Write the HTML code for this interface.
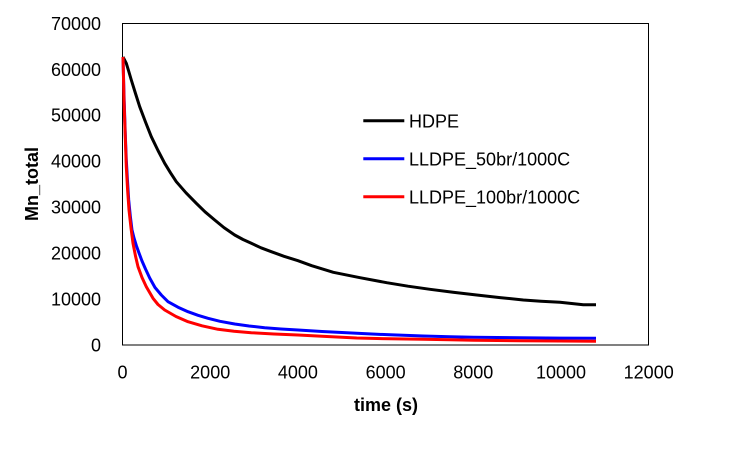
<!DOCTYPE html>
<html><head><meta charset="utf-8">
<style>
html,body{margin:0;padding:0;background:#fff;}
svg{display:block;}
text{font-family:"Liberation Sans",Arial,sans-serif;fill:#000;}
</style></head>
<body>
<svg width="749" height="450" viewBox="0 0 749 450" xmlns="http://www.w3.org/2000/svg">
<rect x="0" y="0" width="749" height="450" fill="#fff"/>
<rect x="122.5" y="23.5" width="526" height="321.5" fill="none" stroke="#000" stroke-width="1"/>
<g font-size="18" text-anchor="end">
<text x="101" y="29.9">70000</text>
<text x="101" y="75.8">60000</text>
<text x="101" y="121.7">50000</text>
<text x="101" y="167.7">40000</text>
<text x="101" y="213.6">30000</text>
<text x="101" y="259.5">20000</text>
<text x="101" y="305.5">10000</text>
<text x="101" y="351.4">0</text>
</g>
<g font-size="18" text-anchor="middle">
<text x="122.5" y="378.5">0</text>
<text x="210.2" y="378.5">2000</text>
<text x="297.9" y="378.5">4000</text>
<text x="385.6" y="378.5">6000</text>
<text x="473.3" y="378.5">8000</text>
<text x="561" y="378.5">10000</text>
<text x="648.7" y="378.5">12000</text>
</g>
<text x="386" y="411" font-size="18" font-weight="bold" text-anchor="middle">time (s)</text>
<text transform="translate(38,184) rotate(-90)" font-size="18" font-weight="bold" text-anchor="middle">Mn_total</text>
<g fill="none" stroke-width="3" stroke-linejoin="round" stroke-linecap="butt">
<polyline stroke="#000" points="123,57 126.3,63.3 128.8,71.5 131.3,80 135.5,93.5 139.7,106.7 145.5,122 151.3,136.7 158,150.5 164.7,163.3 170.5,172.8 176.3,181.7 186,192.8 196.3,203.3 205,211.8 214.7,220 224,227.6 234.7,235 243,239.5 251.3,243.3 261,247.8 271.3,251.7 284,256.3 298,260.7 311.7,265.7 333.3,272.3 360,277.7 386.7,282.7 408,286.2 430,289.3 453,292.2 476.7,295 500,297.6 523.3,300 541,301.3 560,302.3 583.3,304.7 596,304.7"/>
<polyline stroke="#0000ff" points="123,57 123.8,88 124.7,116.7 125.5,140 126.3,160 127.5,181 128.7,200 130.3,216 132,230 134,238 136.3,245.5 139,253 142,261 145.5,269 149.7,278 155,287.5 161.3,295 168,301.7 178,307.2 188,311.7 198,315.3 208,318.3 220,321.3 234.7,324 249,326 264.7,327.7 281,329 298,330 322,331.5 356.7,333.3 390,334.8 423.3,336 450,336.7 473.3,337.3 520,337.8 560,338.1 596,338.3"/>
<polyline stroke="#ff0000" points="123,57 124,100 125.2,135 126.3,166.7 127.6,190 129,210 131,228 133,243.3 135.5,256 138,266.7 142,277.5 146.3,286.7 153,298.3 158,304.5 164.7,310 176,316.5 188,321.7 202,325.8 218,329.3 234,331.2 251.3,332.7 274,334 298,335 322,336.2 356.7,338 390,338.8 423.3,339.3 450,339.8 473.3,340.3 520,340.7 560,341 596,341.3"/>
</g>
<g stroke-width="3">
<line x1="363.3" y1="120.7" x2="404.3" y2="120.7" stroke="#000"/>
<line x1="363.3" y1="158.7" x2="404.3" y2="158.7" stroke="#0000ff"/>
<line x1="363.3" y1="196.7" x2="404.3" y2="196.7" stroke="#ff0000"/>
</g>
<g font-size="18">
<text x="409" y="127.3">HDPE</text>
<text x="409" y="165.3">LLDPE_50br/1000C</text>
<text x="409" y="203.3">LLDPE_100br/1000C</text>
</g>
</svg>
</body></html>
